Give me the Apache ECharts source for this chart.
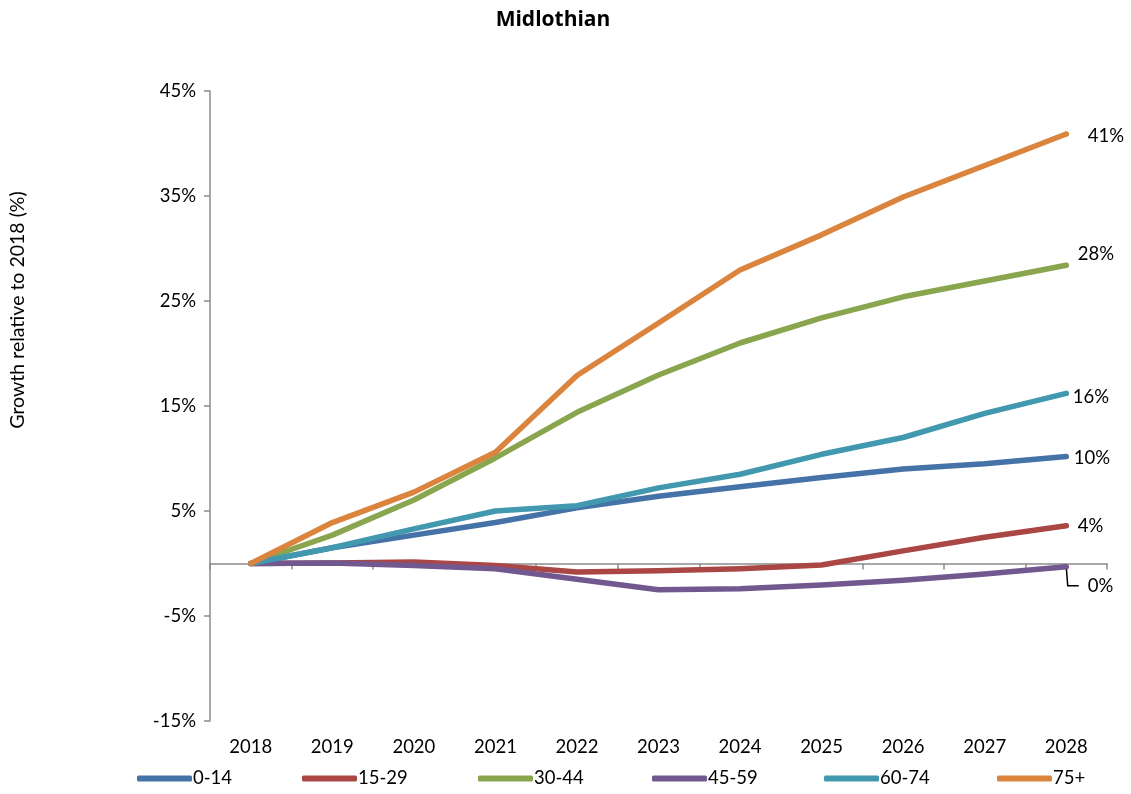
<!DOCTYPE html>
<html>
<head>
<meta charset="utf-8">
<script src="https://cdn.jsdelivr.net/npm/echarts@6/dist/echarts.min.js"></script>
<style>
  html, body { margin: 0; padding: 0; background: #fff; }
  #chart { width: 1131px; height: 794px; }
</style>
</head>
<body>
<div id="chart"></div>
<script>
// Projected population growth by age band, relative to 2018 (%)
const years = ['2018', '2019', '2020', '2021', '2022', '2023', '2024', '2025', '2026', '2027', '2028'];

const age0_14  = [0, 1.5, 2.7, 3.9, 5.3, 6.4, 7.3, 8.2, 9.0, 9.5, 10.2];
const age15_29 = [0, 0.05, 0.15, -0.2, -0.8, -0.7, -0.5, -0.15, 1.2, 2.5, 3.6];
const age30_44 = [0, 2.7, 6.05, 10.05, 14.4, 17.95, 21.0, 23.4, 25.4, 26.9, 28.4];
const age45_59 = [0, 0.05, -0.2, -0.5, -1.5, -2.5, -2.4, -2.05, -1.6, -1.0, -0.3];
const age60_74 = [0, 1.5, 3.3, 5.0, 5.5, 7.2, 8.5, 10.4, 12.0, 14.3, 16.2];
const age75    = [0, 3.9, 6.8, 10.6, 17.9, 22.9, 27.95, 31.3, 34.9, 37.9, 40.9];

const yTicks = { min: -15, max: 45, step: 10 };

const FONT = 'Lato, "Open Sans", sans-serif';
const TITLE_FONT = '"Open Sans", Lato, sans-serif';
const FS = 18.5;
const AXIS_GREY = '#8c8c8c';

const bands = [
  { name: '0-14',  data: age0_14,  color: '#4572A7', labelOffset: [-3, 2] },
  { name: '15-29', data: age15_29, color: '#AA4643', labelOffset: [1, 0] },
  { name: '30-44', data: age30_44, color: '#89A54E', labelOffset: [1, -11] },
  { name: '45-59', data: age45_59, color: '#71588F', labelOffset: [0, 0], leader: true },
  { name: '60-74', data: age60_74, color: '#4198AF', labelOffset: [-4, 4] },
  { name: '75+',   data: age75,    color: '#DB843D', labelOffset: [11, 2] }
];

const legendLeft = [137, 302, 478, 652, 824, 997];

function pct(v) {
  const r = Math.round(v);
  return (r === 0 ? 0 : r) + '%';
}

const series = bands.map(b => {
  const last = b.data.length - 1;
  const s = {
    name: b.name,
    type: 'line',
    xAxisIndex: 0,
    yAxisIndex: 0,
    symbol: 'none',
    showSymbol: true,
    smooth: false,
    lineStyle: { color: b.color, width: 5.5, cap: 'round', join: 'round' },
    itemStyle: { color: b.color },
    emphasis: { disabled: true },
    data: b.data.map((v, i) => i === last ? {
      value: v,
      symbol: 'circle',
      symbolSize: 5,
      label: {
        show: true,
        position: 'right',
        distance: 8,
        offset: b.labelOffset,
        padding: b.leader ? [0, 0, 0, 9] : 0,
        backgroundColor: b.leader ? 'rgba(255,255,255,0)' : 'transparent',
        formatter: p => pct(p.value),
        color: '#000',
        fontFamily: FONT,
        fontSize: FS
      }
    } : v)
  };
  if (b.leader) {
    // elbow leader: down from the end point, then across to the label
    s.labelLayout = { dx: 2, dy: 19 };
    s.labelLine = { show: true, length2: 11, minTurnAngle: 90, smooth: false, lineStyle: { color: '#000', width: 1.5 } };
  }
  return s;
});

const chart = echarts.init(document.getElementById('chart'), null, { renderer: 'canvas' });

chart.setOption({
  backgroundColor: '#ffffff',
  animation: false,
  title: {
    text: 'Midlothian',
    left: 548,
    textAlign: 'center',
    top: 5,
    textStyle: { fontFamily: TITLE_FONT, fontWeight: 'bold', fontSize: 21, color: '#000' }
  },
  legend: bands.map((b, i) => ({
    data: [b.name],
    left: legendLeft[i],
    top: 769,
    icon: 'roundRect',
    itemWidth: 55,
    itemHeight: 6,
    itemGap: 0,
    padding: 0,
    textStyle: { fontFamily: FONT, fontSize: FS, color: '#000', padding: [0, 0, 0, -4] },
    selectedMode: false
  })),
  grid: { left: 210, right: 24, top: 91, bottom: 73, containLabel: false },
  xAxis: [
    {
      // zero line with boundary ticks
      type: 'category',
      data: years,
      boundaryGap: true,
      axisLine: { show: true, onZero: true, lineStyle: { color: AXIS_GREY, width: 1.5 } },
      axisTick: { show: true, interval: 0, length: 6, lineStyle: { color: AXIS_GREY, width: 1.5 } },
      axisLabel: { show: false },
      splitLine: { show: false }
    },
    {
      // year labels along the bottom
      type: 'category',
      data: years,
      position: 'bottom',
      boundaryGap: true,
      axisLine: { show: false, onZero: false },
      axisTick: { show: false },
      axisLabel: { show: true, interval: 0, margin: 17, fontFamily: FONT, fontSize: FS, color: '#000' },
      splitLine: { show: false }
    }
  ],
  yAxis: {
    type: 'value',
    min: yTicks.min,
    max: yTicks.max,
    interval: yTicks.step,
    axisLine: { show: true, lineStyle: { color: AXIS_GREY, width: 1.5 } },
    axisTick: { show: true, length: 6, lineStyle: { color: AXIS_GREY, width: 1.5 } },
    axisLabel: { formatter: '{value}%', margin: 14, fontFamily: FONT, fontSize: FS, color: '#000' },
    splitLine: { show: false }
  },
  graphic: [{
    type: 'text',
    x: 18,
    y: 310,
    rotation: Math.PI / 2,
    style: {
      text: 'Growth relative to 2018 (%)',
      font: '19.5px ' + FONT,
      fill: '#000',
      textAlign: 'center',
      textVerticalAlign: 'middle'
    }
  }],
  series: series
});
</script>
</body>
</html>
